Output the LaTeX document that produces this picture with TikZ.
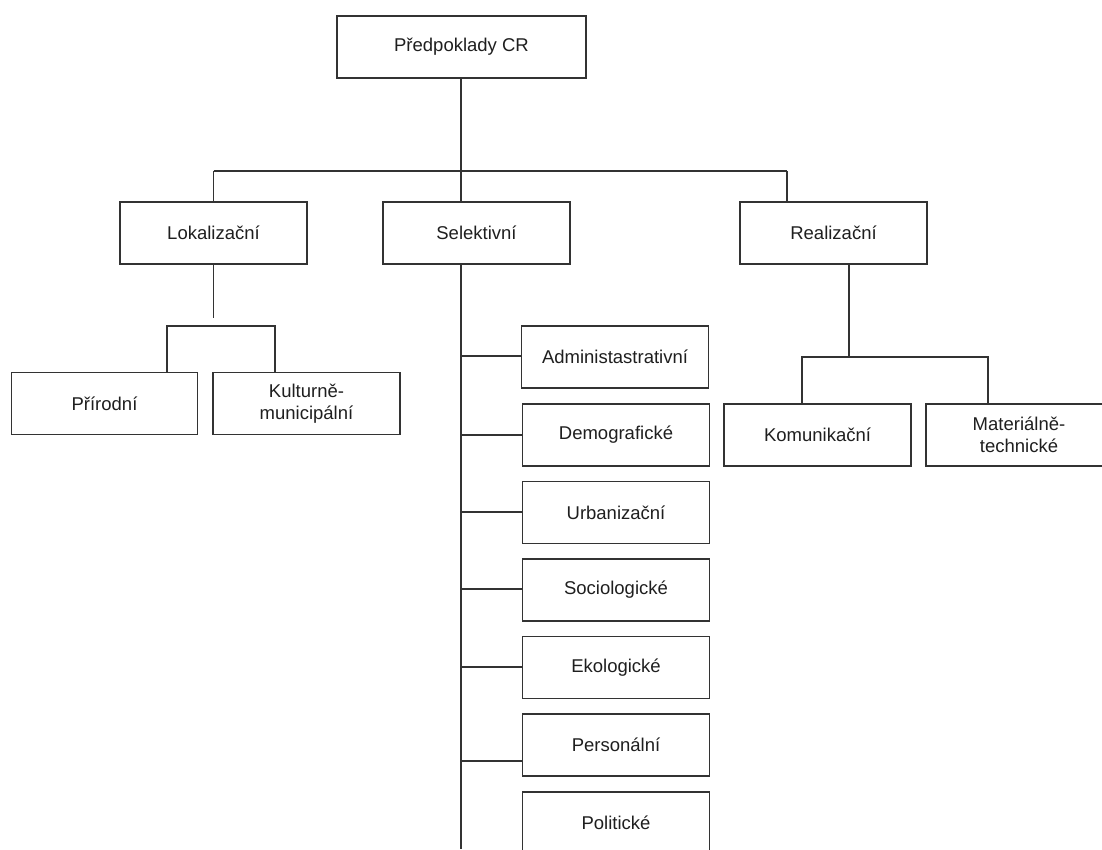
\documentclass[tikz,border=0pt]{standalone}
\usepackage{fontspec}
\setmainfont{Liberation Sans}
\definecolor{ln}{HTML}{333333}
\definecolor{tx}{HTML}{1F1F1F}
\begin{document}
\begin{tikzpicture}[x=1pt,y=-1pt,
  box/.style={draw=ln,line width=1.6pt,fill=white,rectangle,inner sep=0pt,
    minimum width=187pt,minimum height=62pt,align=center,text=tx,
    font=\fontsize{18.5}{21.5}\selectfont},
  conn/.style={draw=ln,line width=1.6pt}]
\clip (0,0) rectangle (1102,849);
\fill[white] (0,0) rectangle (1102,849);
% nodes
\node[box,minimum width=249pt] (top) at (461.5,47) {Předpoklady CR};
\node[box] (lok) at (213.5,233) {Lokalizační};
\node[box] (sel) at (476.5,233) {Selektivní};
\node[box] (real) at (833.5,233) {Realizační};
\node[box,minimum width=186pt] (prir) at (104.5,403.5) {Přírodní};
\node[box] (kult) at (306.5,403.5) {Kulturně-\\municipální};
\node[box] (kom) at (817.5,435) {Komunikační};
\node[box,minimum width=186pt] (mat) at (1019,435) {Materiálně-\\technické};
\node[box] (adm) at (615,357) {Administastrativní};
\node[box] (dem) at (616,435) {Demografické};
\node[box] (urb) at (616,512.5) {Urbanizační};
\node[box] (soc) at (616,590) {Sociologické};
\node[box] (eko) at (616,667.5) {Ekologické};
\node[box] (per) at (616,745) {Personální};
\node[box] (pol) at (616,823) {Politické};
% junction coordinates
\coordinate (jt) at (461,171);
\coordinate (jl) at (213.5,171);
\coordinate (jr) at (787,171);
\coordinate (trunkend) at (461,849);
\coordinate (lokend) at (213.5,318);
\coordinate (lp) at (167,326);
\coordinate (lk) at (275,326);
\coordinate (rj) at (849,357);
\coordinate (rk) at (802,357);
\coordinate (rm) at (988,357);
% connectors: top level
\draw[conn] (top.south -| jt) -- (jt);
\draw[conn] (jl) -- (jr);
\draw[conn] (jl) -- (lok.north);
\draw[conn] (jt) -- (sel.north -| jt);
\draw[conn] (jr) -- (real.north -| jr);
% Lokalizacni
\draw[conn] (lok.south) -- (lokend);
\draw[conn] (prir.north -| lp) -- (lp) -- (lk) -- (kult.north -| lk);
% Realizacni
\draw[conn] (real.south -| rj) -- (rj);
\draw[conn] (kom.north -| rk) -- (rk) -- (rm) -- (mat.north -| rm);
% Selektivni trunk and branches
\draw[conn] (sel.south -| jt) -- (trunkend);
\draw[conn] (adm.west |- 0,356) -- (461,356);
\draw[conn] (dem.west |- 0,435) -- (461,435);
\draw[conn] (urb.west |- 0,512) -- (461,512);
\draw[conn] (soc.west |- 0,589) -- (461,589);
\draw[conn] (eko.west |- 0,667) -- (461,667);
\draw[conn] (per.west |- 0,761) -- (461,761);
\end{tikzpicture}
\end{document}
